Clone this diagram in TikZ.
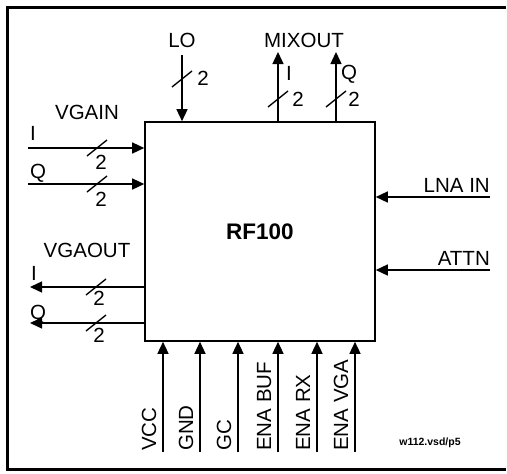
\documentclass[tikz,border=0pt]{standalone}
\usepackage{fontspec}
\setmainfont{Liberation Sans}
\usetikzlibrary{arrows.meta}
\begin{document}
\begin{tikzpicture}[x=1pt,y=-1pt,
  lbl/.style={inner sep=0pt, font=\fontsize{20.5}{24}\selectfont},
  sig/.style={line width=1.4pt, -{Triangle[length=12pt,width=11pt]}},
  busslash/.style={line width=1.4pt},
  chipbox/.style={draw, line width=1.6pt, minimum width=230pt, minimum height=219pt, inner sep=0pt,
    font=\fontsize{22.5}{26}\selectfont\bfseries},
  frame/.style={line width=3pt}]
\useasboundingbox (0,0) rectangle (507,474);
\draw[frame] (506,7) -- (7,7) -- (7,469) -- (506,469);
\node[chipbox] (chip) at (260,231.5) {RF100};

% top: LO
\node[lbl] (lo) at (182,40) {LO};
\coordinate (loS) at (182,55);
\draw[sig] (loS) -- (loS |- chip.north);
\draw[busslash] (172,87) -- (192,71);
\node[lbl] (lo2) at (203,78) {2};

% top: MIXOUT
\node[lbl] (mix) at (304,40) {MIXOUT};
\coordinate (miT) at (278,52);
\coordinate (mqT) at (336,52);
\draw[sig] (miT |- chip.north) -- (miT);
\draw[sig] (mqT |- chip.north) -- (mqT);
\node[lbl] (miL) at (289,73) {I};
\node[lbl] (mqL) at (349,74) {Q};
\draw[busslash] (268,107) -- (288,91);
\draw[busslash] (326,107) -- (346,91);
\node[lbl] (mi2) at (298,99) {2};
\node[lbl] (mq2) at (354,99) {2};

% left: VGAIN
\node[lbl] (vgain) at (87,112) {VGAIN};
\coordinate (giS) at (28,148);
\coordinate (gqS) at (28,184);
\draw[sig] (giS) -- (giS -| chip.west);
\draw[sig] (gqS) -- (gqS -| chip.west);
\node[lbl, anchor=base west] (giL) at (30,140) {I};
\node[lbl, anchor=base west] (gqL) at (30,178) {Q};
\draw[busslash] (87,156) -- (107,140);
\draw[busslash] (87,192) -- (107,176);
\node[lbl] (gi2) at (101,162) {2};
\node[lbl] (gq2) at (101,199) {2};

% left: VGAOUT
\node[lbl] (vgaout) at (87,250) {VGAOUT};
\coordinate (oiE) at (30,287);
\coordinate (oqE) at (30,323);
\draw[sig] (oiE -| chip.west) -- (oiE);
\draw[sig] (oqE -| chip.west) -- (oqE);
\node[lbl, anchor=base west] (oiL) at (31,280) {I};
\node[lbl, anchor=base west] (oqL) at (30,319) {Q};
\draw[busslash] (86,295) -- (106,279);
\draw[busslash] (86,331) -- (106,315);
\node[lbl] (oi2) at (99,298) {2};
\node[lbl] (oq2) at (99,335) {2};

% right
\coordinate (lnaS) at (490,197);
\coordinate (attS) at (490,270);
\draw[sig] (lnaS) -- (lnaS -| chip.east);
\draw[sig] (attS) -- (attS -| chip.east);
\node[lbl, anchor=base east] (lna) at (490,192) {LNA IN};
\node[lbl, anchor=base east] (att) at (490,265) {ATTN};

% bottom
\foreach \x/\t/\n in {163/VCC/a, 200/GND/b, 238/GC/c, 278/ENA BUF/d, 317/ENA RX/e, 355/ENA VGA/f}{
  \coordinate (b\n) at (\x,452);
  \draw[sig] (b\n) -- (b\n |- chip.south);
  \node[lbl, rotate=90, anchor=base west] (l\n) at (\x-7,451) {\t};
}

\node[inner sep=0pt, font=\fontsize{10.5}{12}\selectfont\bfseries] (ref) at (430,443) {w112.vsd/p5};
\end{tikzpicture}
\end{document}
